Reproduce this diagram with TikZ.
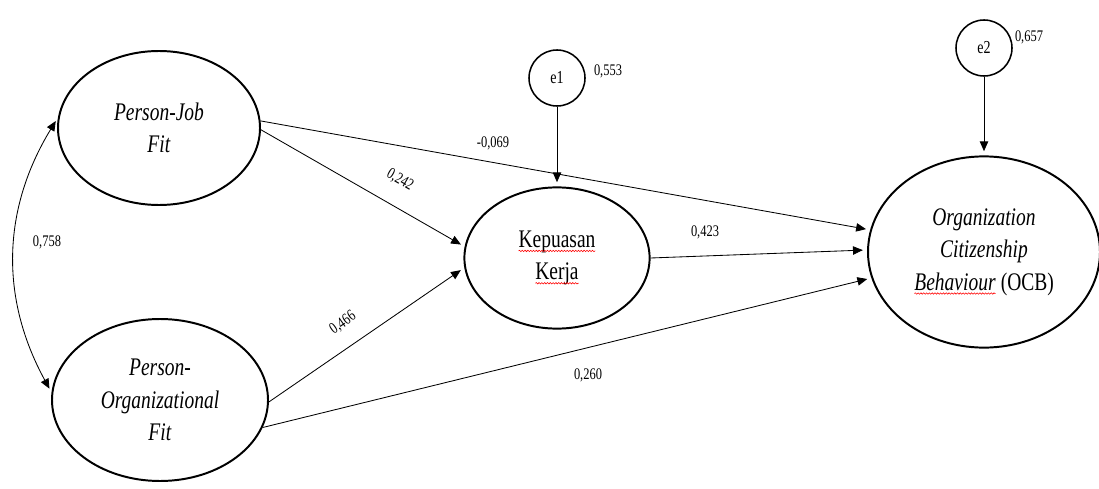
\documentclass[tikz,border=0pt]{standalone}
\usepackage{fontspec}
\setmainfont[FakeStretch=0.77]{Liberation Serif}
\usetikzlibrary{shapes.geometric,arrows.meta,decorations.pathmorphing}
\tikzset{
  latent/.style={ellipse, draw, line width=1.4pt, inner sep=0pt, align=center, font=\fontsize{18}{23}\selectfont},
  errvar/.style={circle, draw, line width=1.1pt, minimum size=1.4cm, inner sep=0pt, font=\fontsize{13}{15}\selectfont},
  effect/.style={-{Triangle[length=7pt,width=6pt]}, line width=0.6pt, shorten >=3pt},
  coef/.style={font=\fontsize{11.5}{13}\selectfont, inner sep=1pt}
}
% red wavy spell mark under a word
\newcommand\spellwave[1]{\tikz[baseline=(sw.base)]{\node[shape=rectangle, draw=none, inner sep=0pt, outer sep=0pt, minimum width=0pt, minimum height=0pt] (sw) {#1};
  \draw[red, line width=0.4pt, decorate, decoration={snake, amplitude=0.5pt, segment length=2pt}] ([yshift=-2.5pt]sw.base west) -- ([yshift=-2.5pt]sw.base east);}}
\begin{document}
\begin{tikzpicture}
  \useasboundingbox (0,0) rectangle (27.475,12.2);
  %Variabel laten
  \node[latent, minimum width=5.05cm, minimum height=3.85cm] (pj) at (3.975,9.0) {\textit{Person-Job}\\\textit{Fit}};
  \node[latent, minimum width=5.4cm, minimum height=4.05cm] (pof) at (4.0,2.2) {\textit{Person-}\\\textit{Organizational}\\\textit{Fit}};
  \node[latent, minimum width=4.63cm, minimum height=3.53cm] (kk) at (13.925,5.75) {\spellwave{Kepuasan}\\\spellwave{Kerja}};
  \node[latent, minimum width=5.8cm, minimum height=4.78cm] (ocb) at (24.6,5.9) {\textit{Organization}\\\textit{Citizenship}\\\spellwave{\textit{Behaviour}} (OCB)};
  %Error
  \node[errvar] (e1) at (13.925,10.25) {e1};
  \node[errvar] (e2) at (24.6,11.0) {e2};
  %Jalur
  \draw[effect] (pj.4) -- (ocb.169);
  \draw[effect] (pj.-1) -- (kk.173);
  \draw[effect] (pof.-1) -- (kk.186);
  \draw[effect] (pof.-15) -- (ocb.193);
  \draw[effect] (kk.east) -- (ocb.179);
  \draw[effect] (e1) -- (kk);
  \draw[effect] (e2) -- (ocb);
  \draw[effect, {Triangle[length=7pt,width=6pt]}-{Triangle[length=7pt,width=6pt]}, shorten <=3pt] (pj.174) to[bend right=30] (pof.176);
  %Koefisien
  \node[coef] (c758) at (1.175,6.15) {0,758};
  \node[coef] (c553) at (15.2,10.425) {0,553};
  \node[coef] (c657) at (25.725,11.275) {0,657};
  \node[coef] (c069) at (12.325,8.625) {-0,069};
  \node[coef, rotate=-30] (c242) at (10.0,7.7) {0,242};
  \node[coef, rotate=35] (c466) at (8.575,4.125) {0,466};
  \node[coef] (c423) at (17.625,6.4) {0,423};
  \node[coef] (c260) at (14.7,2.825) {0,260};
\end{tikzpicture}
\end{document}
